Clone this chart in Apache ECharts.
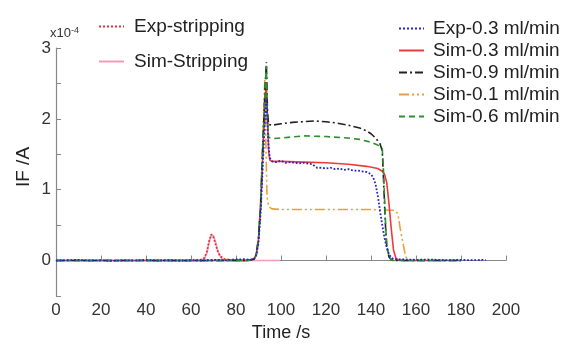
<!DOCTYPE html>
<html>
<head>
<meta charset="utf-8">
<script src="https://cdn.jsdelivr.net/npm/echarts@6/dist/echarts.min.js"></script>
<style>
  html, body { margin: 0; padding: 0; background: #fff; }
  #chart { width: 566px; height: 347px; }
</style>
</head>
<body>
<div id="chart"></div>
<script>
// Current response IF (units of 1e-4 A) versus time (s), pairs of [time, current]
var expStripping = [[40,0],[50,0.005],[58,0],[62,0.005],[64,0.01],[65,0.02],[66,0.04],[67,0.12],[68,0.27],[69,0.37],[70,0.33],[71,0.22],[72,0.12],[73,0.06],[75,0.02],[78,0.01],[82,0.005],[85,0]];
var simStripping = [[0,0],[60,0],[64,0.005],[65,0.01],[66,0.03],[67,0.1],[68,0.25],[69,0.36],[69.5,0.37],[70,0.35],[71,0.25],[72,0.13],[73,0.06],[74,0.02],[76,0.005],[78,0],[99.5,0]];
var exp03 = [[0,0],[5,0.005],[10,0.01],[15,0],[20,0.005],[25,-0.005],[30,0.005],[35,0],[40,0.01],[45,0],[50,0.005],[55,0],[60,0.005],[65,0],[70,0.01],[75,0.005],[80,0.015],[84,0.02],[86,0.01],[88,0.02],[89,0.08],[90,0.25],[91,0.7],[92,1.4],[93,2.1],[93.5,2.3],[94,1.9],[94.5,1.6],[95,1.45],[96,1.4],[98,1.39],[100,1.41],[102,1.38],[104,1.39],[106,1.38],[108,1.37],[110,1.38],[112,1.37],[114,1.36],[115,1.33],[116,1.31],[118,1.31],[120,1.3],[122,1.31],[124,1.29],[126,1.3],[128,1.28],[130,1.29],[132,1.27],[134,1.27],[136,1.26],[138,1.25],[140,1.22],[141,1.17],[142,1.08],[143,0.92],[144,0.7],[145,0.5],[146,0.32],[147,0.18],[148,0.09],[149,0.04],[150,0.02],[155,0.015],[160,0.01],[165,0.015],[170,0.01],[175,0.005],[180,0.01],[185,0.005],[191,0.01]];
var sim03 = [[0,0],[85,0],[88,0.02],[89,0.08],[90,0.3],[91,0.8],[92,1.6],[93,2.3],[93.5,2.5],[94,2.0],[94.5,1.55],[95,1.42],[96,1.4],[100,1.4],[110,1.39],[120,1.38],[130,1.36],[138,1.33],[143,1.3],[145,1.26],[146,1.22],[147,1.1],[148,0.8],[149,0.45],[150,0.15],[151,0.04],[152,0.01],[155,0],[180,0]];
var sim09 = [[0,0],[85,0],[88,0.02],[89,0.08],[90,0.3],[91,0.8],[92,1.7],[93,2.5],[93.5,2.8],[94,2.1],[94.5,1.92],[96,1.91],[100,1.93],[105,1.95],[110,1.96],[115,1.97],[120,1.96],[125,1.94],[130,1.91],[135,1.87],[138,1.83],[140,1.79],[142,1.73],[144,1.65],[145,1.55],[145.5,1.2],[146,0.8],[146.5,0.45],[147,0.2],[148,0.05],[149,0.01],[150,0],[180,0]];
var sim01 = [[0,0],[85,0],[88,0.02],[89,0.1],[90,0.35],[91,0.9],[92,1.8],[92.8,2.55],[93.3,1.6],[93.8,0.9],[94.5,0.76],[96,0.73],[100,0.72],[120,0.72],[140,0.72],[145,0.715],[150,0.71],[151,0.7],[152,0.65],[153,0.45],[154,0.28],[155,0.12],[155.5,0.05],[156.5,0.01],[158,0],[160,0]];
var sim06 = [[0,0],[85,0],[88,0.02],[89,0.08],[90,0.3],[91,0.8],[92,1.7],[93,2.45],[93.5,2.75],[94,1.95],[94.5,1.74],[96,1.72],[100,1.73],[110,1.76],[120,1.75],[130,1.73],[135,1.71],[140,1.67],[143,1.63],[145,1.58],[145.5,1.3],[146,0.9],[146.5,0.5],[147,0.22],[148,0.06],[149,0.01],[150,0],[180,0]];

var xTicks = { min: 0, max: 200, step: 20 };
var yTicks = { min: -0.5, max: 3, step: 0.5 };

var FONT = '"Liberation Sans", Arial, sans-serif';

function lineSeries(name, data, color, type, width) {
  return {
    name: name, type: 'line', data: data,
    symbol: 'none', showSymbol: false, smooth: false,
    lineStyle: { color: color, width: width || 1.6, type: type },
    itemStyle: { color: color },
    emphasis: { disabled: true },
    animation: false
  };
}

var legendBase = {
  orient: 'vertical',
  itemWidth: 25, itemHeight: 14,
  itemStyle: { opacity: 0 },
  selectedMode: false
};

var chart = echarts.init(document.getElementById('chart'), null, { renderer: 'canvas' });
chart.setOption({
  animation: false,
  textStyle: { fontFamily: FONT },
  grid: { left: 56, right: 60, top: 48, bottom: 44, containLabel: false },
  xAxis: {
    type: 'value', min: xTicks.min, max: xTicks.max, interval: xTicks.step,
    name: 'Time /s', nameLocation: 'middle', nameGap: 28,
    nameTextStyle: { fontSize: 18, color: '#222', fontFamily: FONT },
    axisLine: { lineStyle: { color: '#888', width: 1.2 } },
    axisTick: { inside: true, length: 5, lineStyle: { color: '#888' } },
    axisLabel: { fontSize: 17, color: '#333', margin: 6, fontFamily: FONT },
    splitLine: { show: false }
  },
  yAxis: {
    type: 'value', min: yTicks.min, max: yTicks.max, interval: yTicks.step,
    axisLine: { show: true, lineStyle: { color: '#888', width: 1.2 } },
    axisTick: { show: true, inside: true, length: 5, lineStyle: { color: '#888' } },
    axisLabel: {
      fontSize: 17, color: '#333', margin: 5, fontFamily: FONT,
      formatter: function (v) { return Math.abs(v - Math.round(v)) < 1e-9 ? String(Math.round(v)) : ''; }
    },
    splitLine: { show: false }
  },
  legend: [
    Object.assign({}, legendBase, {
      data: ['Exp-stripping', 'Sim-Stripping'],
      left: 93, top: 12, itemGap: 16,
      textStyle: { fontSize: 19, color: '#222', fontFamily: FONT, padding: [0, 0, 0, 5] }
    }),
    Object.assign({}, legendBase, {
      data: ['Exp-0.3 ml/min', 'Sim-0.3 ml/min', 'Sim-0.9 ml/min', 'Sim-0.1 ml/min', 'Sim-0.6 ml/min'],
      left: 393, top: 14, itemGap: 3,
      textStyle: { fontSize: 19, color: '#222', fontFamily: FONT, padding: [0, 0, 0, 4] }
    })
  ],
  graphic: [
    {
      type: 'text', left: 50, top: 26,
      style: {
        text: '{b|x10}{s|-4}', fontFamily: FONT,
        rich: {
          b: { fontSize: 13, fill: '#333', fontFamily: FONT },
          s: { fontSize: 9, fill: '#333', verticalAlign: 'top', padding: [0, 0, 6, 0], fontFamily: FONT }
        }
      }
    },
    {
      type: 'text', x: 24, y: 167, rotation: Math.PI / 2,
      style: { text: 'IF /A', fontSize: 19, fill: '#222', fontFamily: FONT, align: 'center', verticalAlign: 'middle' }
    }
  ],
  series: [
    lineSeries('Sim-Stripping', simStripping, '#f39ab4', 'solid', 1.6),
    lineSeries('Exp-stripping', expStripping, '#e8303c', 'dotted', 1.8),
    lineSeries('Sim-0.1 ml/min', sim01, '#e8a03c', [10, 3, 2, 3, 2, 3], 1.6),
    lineSeries('Sim-0.3 ml/min', sim03, '#f03a3a', 'solid', 1.6),
    lineSeries('Sim-0.9 ml/min', sim09, '#222222', [8, 3, 2, 3], 1.6),
    lineSeries('Sim-0.6 ml/min', sim06, '#2e8f2e', [6, 4], 1.6),
    lineSeries('Exp-0.3 ml/min', exp03, '#2424d0', 'dotted', 1.8)
  ]
});
</script>
</body>
</html>
